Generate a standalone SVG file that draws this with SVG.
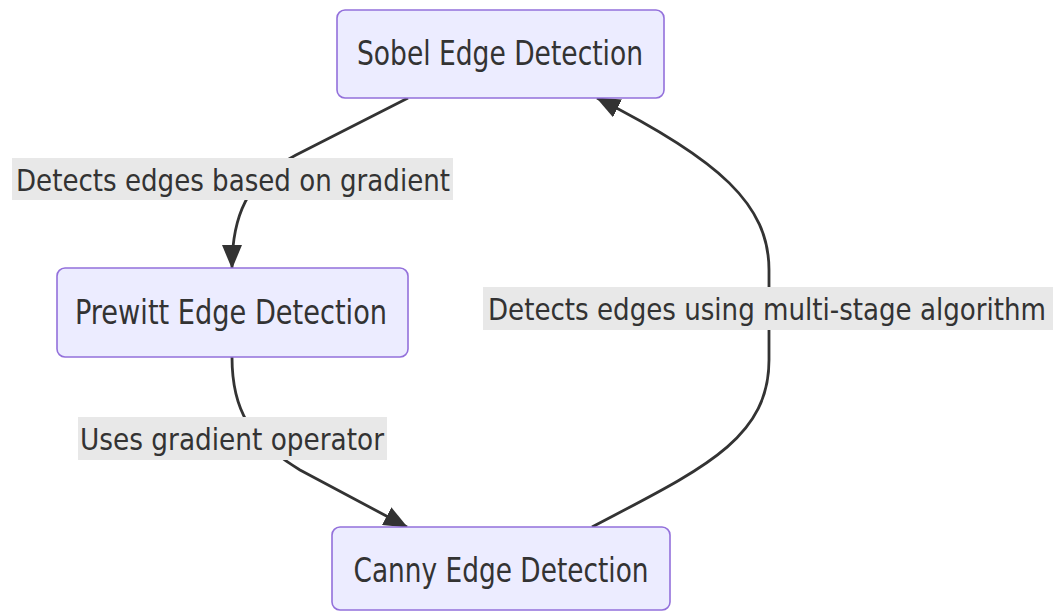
<svg xmlns="http://www.w3.org/2000/svg" width="1056" height="612" viewBox="0 0 1056 612">
<style>
.node rect{fill:#ECECFF;stroke:#9370DB;stroke-width:1.6}
.ntext{font-family:"Liberation Sans Narrow","DejaVu Sans Condensed","Liberation Sans",sans-serif;font-size:34px;fill:#333;text-anchor:middle}
.ltext{font-family:"Liberation Sans Narrow","DejaVu Sans Condensed","Liberation Sans",sans-serif;font-size:31px;fill:#333;text-anchor:middle}
.lbg{fill:#e8e8e8}
.edge{fill:none;stroke:#333;stroke-width:2.8}
</style>
<defs>
<marker id="arrow" markerUnits="userSpaceOnUse" viewBox="0 0 24 20" markerWidth="24" markerHeight="20" refX="23" refY="10" orient="auto">
<path d="M0,0 L24,10 L0,20 z" fill="#333"/>
</marker>
</defs>
<rect width="1056" height="612" fill="#ffffff"/>
<g id="connectors">
<path class="edge" d="M408,98 L296,155 C255,176 232,205 232,268" marker-end="url(#arrow)"/>
<path class="edge" d="M232,357 C232,410 250,440 300,470 L407,527" marker-end="url(#arrow)"/>
<path class="edge" d="M592,527 C700,470 769,440 769,360 L769,270 C769,205 720,160 597,98" marker-end="url(#arrow)"/>
</g>
<g id="edge-labels">
<g id="label-1">
<rect class="lbg" x="12" y="158" width="441" height="42"/>
<text class="ltext" x="233" y="191" textLength="434" lengthAdjust="spacingAndGlyphs">Detects edges based on gradient</text>
</g>
<g id="label-2">
<rect class="lbg" x="78" y="417" width="309" height="43"/>
<text class="ltext" x="232" y="450" textLength="304" lengthAdjust="spacingAndGlyphs">Uses gradient operator</text>
</g>
<g id="label-3">
<rect class="lbg" x="483" y="287" width="570" height="43"/>
<text class="ltext" x="767" y="320" textLength="558" lengthAdjust="spacingAndGlyphs">Detects edges using multi-stage algorithm</text>
</g>
</g>
<g id="node-sobel" class="node">
<rect x="337" y="10" width="327" height="88" rx="8" ry="8"/>
<text class="ntext" x="500" y="65" textLength="286" lengthAdjust="spacingAndGlyphs">Sobel Edge Detection</text>
</g>
<g id="node-prewitt" class="node">
<rect x="57" y="268" width="351" height="89" rx="8" ry="8"/>
<text class="ntext" x="231" y="324" textLength="312" lengthAdjust="spacingAndGlyphs">Prewitt Edge Detection</text>
</g>
<g id="node-canny" class="node">
<rect x="332" y="527" width="338" height="83" rx="8" ry="8"/>
<text class="ntext" x="501" y="582" textLength="295" lengthAdjust="spacingAndGlyphs">Canny Edge Detection</text>
</g>
</svg>
